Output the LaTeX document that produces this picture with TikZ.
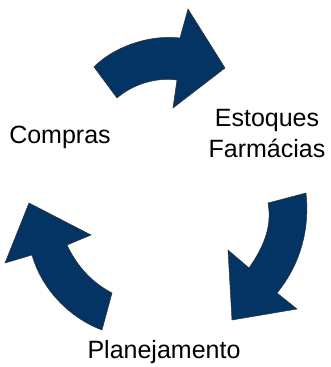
\documentclass[tikz,border=0pt]{standalone}
\usepackage{fontspec}
\setmainfont{Liberation Sans}
\definecolor{navy}{RGB}{4,52,100}
\begin{document}
\begin{tikzpicture}[x=1pt,y=-1pt,
  blockarrow/.style={fill=navy,draw=black!80,line width=0.5pt,line join=miter},
  lbl/.style={inner sep=0pt,font=\fontsize{25}{31}\selectfont,text=black}]
\useasboundingbox (0,0) rectangle (331,367);
% top arrow
\draw[blockarrow] (94,67) .. controls (110,50) and (145,34) .. (180,38)
  -- (188,9) -- (225,68) -- (173,108) -- (177,80)
  .. controls (155,77) and (132,85) .. (117,98) -- cycle;
% right arrow
\draw[blockarrow] (268,203) -- (306,193) .. controls (310,230) and (300,265) .. (277,293)
  -- (297,309) -- (232,320) -- (228,250) -- (249,268)
  .. controls (265,245) and (272,225) .. (268,203) -- cycle;
% left arrow
\draw[blockarrow] (112,293) -- (102,330) .. controls (70,318) and (42,290) .. (32,255)
  -- (5,263) -- (29,203) -- (91,235) -- (67,245)
  .. controls (78,268) and (93,283) .. (112,293) -- cycle;
\node[lbl,anchor=base] (compras) at (60,143) {Compras};
\node[lbl,anchor=center,align=center] (estoques) at (267,133.5) {Estoques\\Farmácias};
\node[lbl,anchor=base] (plan) at (164,358) {Planejamento};
\end{tikzpicture}
\end{document}
